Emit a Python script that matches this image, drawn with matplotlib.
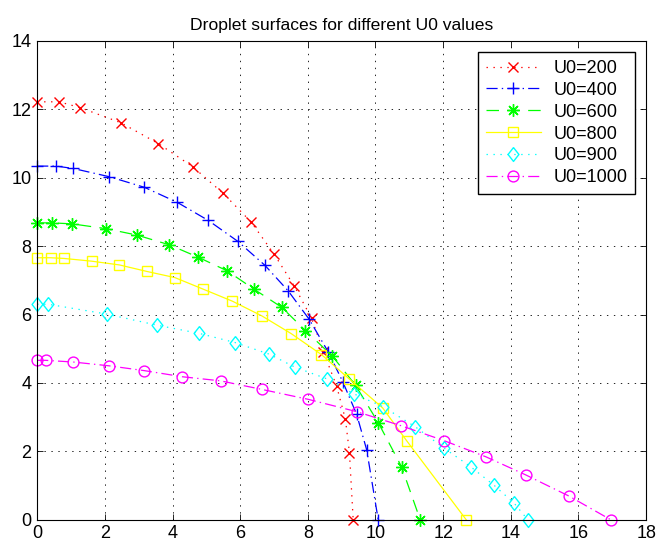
import matplotlib
matplotlib.use("Agg")
import matplotlib.pyplot as plt

plt.rcParams['font.family'] = ['Liberation Sans', 'DejaVu Sans']
plt.rcParams['lines.scale_dashes'] = False

# ---- data ----
labels = ["U0=200", "U0=400", "U0=600", "U0=800", "U0=900", "U0=1000"]

x200 = [0, 0.65, 1.27, 2.47, 3.58, 4.60, 5.50, 6.32, 7.00, 7.60, 8.11, 8.46, 8.85, 9.11, 9.23, 9.34]
y200 = [12.22, 12.22, 12.05, 11.61, 11.00, 10.32, 9.54, 8.71, 7.77, 6.83, 5.89, 4.91, 3.91, 2.94, 1.96, 0]

x400 = [0, 0.56, 1.07, 2.13, 3.17, 4.14, 5.06, 5.93, 6.73, 7.42, 8.04, 8.60, 9.03, 9.44, 9.74, 10.08]
y400 = [10.34, 10.34, 10.27, 10.03, 9.72, 9.28, 8.75, 8.14, 7.44, 6.69, 5.86, 4.91, 4.04, 3.09, 2.04, 0]

x600 = [0, 0.45, 1.04, 2.04, 2.96, 3.90, 4.75, 5.61, 6.41, 7.23, 7.93, 8.72, 9.41, 10.08, 10.77, 11.32]
y600 = [8.68, 8.68, 8.65, 8.51, 8.32, 8.04, 7.68, 7.28, 6.74, 6.21, 5.53, 4.79, 3.93, 2.84, 1.55, 0]

x800 = [0, 0.40, 0.79, 1.61, 2.43, 3.24, 4.07, 4.91, 5.77, 6.64, 7.51, 8.40, 9.23, 10.21, 10.92, 12.68]
y800 = [7.66, 7.66, 7.64, 7.56, 7.45, 7.26, 7.08, 6.74, 6.39, 5.96, 5.44, 4.83, 4.11, 3.27, 2.31, 0]

x900 = [0, 0.33, 2.07, 3.53, 4.78, 5.85, 6.86, 7.62, 8.56, 9.36, 10.23, 11.17, 12.03, 12.81, 13.50, 14.10, 14.50]
y900 = [6.30, 6.30, 6.01, 5.69, 5.45, 5.18, 4.84, 4.46, 4.12, 3.68, 3.30, 2.72, 2.09, 1.55, 1.01, 0.48, 0]

x1000 = [0, 0.25, 1.07, 2.12, 3.16, 4.29, 5.42, 6.64, 8.01, 9.44, 10.75, 12.03, 13.26, 14.44, 15.72, 16.95]
y1000 = [4.66, 4.66, 4.61, 4.50, 4.36, 4.18, 4.06, 3.81, 3.52, 3.16, 2.75, 2.31, 1.84, 1.31, 0.69, 0]

xticks = [0, 2, 4, 6, 8, 10, 12, 14, 16, 18]
yticks = [0, 2, 4, 6, 8, 10, 12, 14]
title = "Droplet surfaces for different U0 values"

# ---- styles ----
diamond = [(0, 1), (0.78, 0), (0, -1), (-0.78, 0), (0, 1)]
styles = [
    dict(color=(1, 0, 0), ls=(0, (1, 4)), marker='x', ms=6.5, mew=1.0),
    dict(color=(0, 0, 1), ls=(0, (8, 3, 1, 3)), marker='+', ms=9, mew=1.0),
    dict(color=(0, 1, 0), ls=(0, (9, 6)), marker=(8, 2, 0), ms=9, mew=1.0),
    dict(color=(1, 1, 0), ls='-', marker='s', ms=7.2, mew=1.0, mfc='none'),
    dict(color=(0, 1, 1), ls=(0, (1, 4)), marker=diamond, ms=10, mew=1.0, mfc='none'),
    dict(color=(1, 0, 1), ls=(0, (8, 3, 1, 3)), marker='o', ms=7.8, mew=1.0, mfc='none'),
]
series = [(x200, y200), (x400, y400), (x600, y600), (x800, y800), (x900, y900), (x1000, y1000)]

fig = plt.figure(figsize=(6.58, 5.46), dpi=100)
ax = fig.add_axes([0.0565, 0.0482, 0.9255, 0.8768])

for (xs, ys), st, lab in zip(series, styles, labels):
    ax.plot(xs, ys, color=st['color'], linestyle=st['ls'], linewidth=0.9,
            marker=st['marker'], markersize=st['ms'], markeredgewidth=st['mew'],
            markerfacecolor=st.get('mfc', st['color']), markeredgecolor=st['color'],
            label=lab, clip_on=False)

ax.set_xlim(0, 18)
ax.set_ylim(0, 14)
ax.set_xticks(xticks)
ax.set_yticks(yticks)
ax.set_xticklabels([str(t) for t in xticks])
ax.set_yticklabels([str(t) for t in yticks])
ax.tick_params(direction='in', length=4, width=0.6, top=True, right=True,
               labelsize=13, pad=4, colors='black')
ax.grid(True, color='black', linestyle=(0, (1, 4)), linewidth=0.6)
for sp in ax.spines.values():
    sp.set_linewidth(0.8)
    sp.set_color('black')

ax.set_title(title, fontsize=12.6, pad=8)

leg = ax.legend(loc='upper right', fontsize=13, numpoints=1, handlelength=3.0,
                labelspacing=0.27, borderaxespad=0.6, fancybox=False,
                edgecolor='black', framealpha=1, borderpad=0.45, handletextpad=0.7)
leg.get_frame().set_linewidth(1.0)

fig.savefig("out.png", dpi=100)
